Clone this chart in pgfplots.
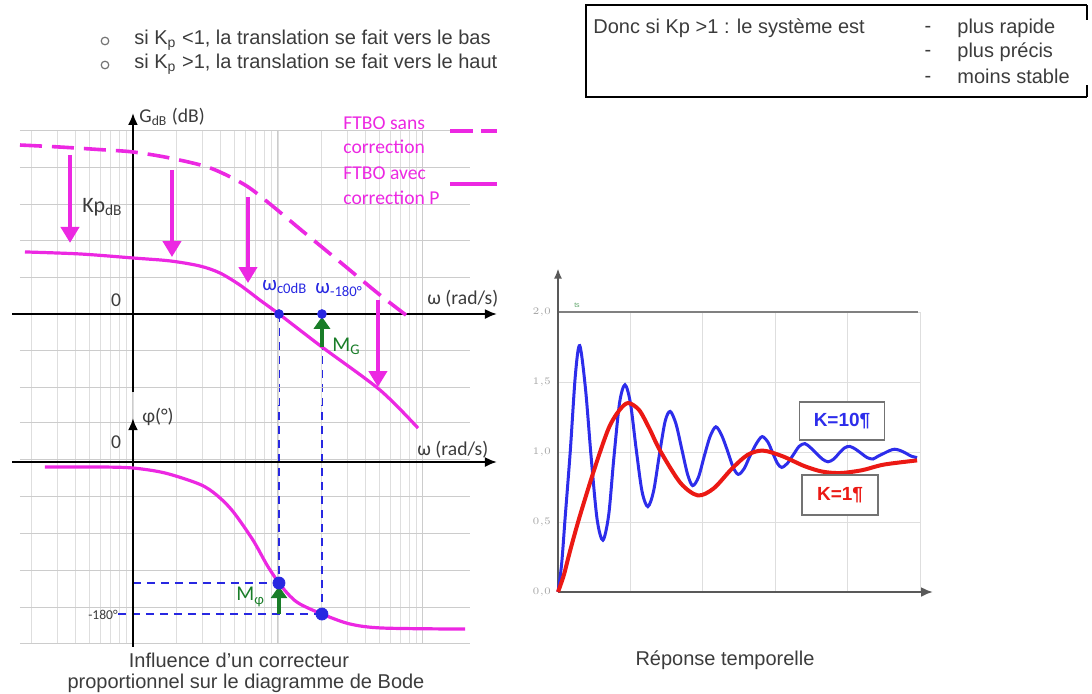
\documentclass[border=0pt]{standalone}
\usepackage{pgfplots}
\pgfplotsset{compat=1.18}
\usepackage{fontspec}
\setmainfont{Liberation Sans}
\newfontfamily\calfont{Carlito}
\usetikzlibrary{arrows.meta}
\definecolor{mag}{RGB}{236,40,226}
\definecolor{blueC}{RGB}{40,40,225}
\definecolor{greenC}{RGB}{25,125,40}
\definecolor{txt}{RGB}{60,60,60}
\definecolor{tblue}{RGB}{45,45,235}
\definecolor{tred}{RGB}{235,25,20}
\newcommand\fs[1]{\fontsize{#1}{#1}\selectfont}
\begin{document}
\begin{tikzpicture}
\path[use as bounding box] (0pt,0pt) rectangle (546pt,346.5pt);

% ---------------- phase axis ----------------
\begin{axis}[at={(10pt,25pt)}, anchor=south west, scale only axis,
 width=225pt, height=119pt,
 xmode=log, xmin=0.1663, xmax=211, ymin=-214.3, ymax=67.5,
 ytick={46.2,2.4,-41.4,-84.1,-127.9,-171.7,-214.3}, minor y tick num=0,
 grid=both, major grid style={draw=black!20, line width=0.5pt},
 minor grid style={draw=black!13, line width=0.4pt},
 axis line style={draw=none}, major tick length=0pt, minor tick length=0pt,
 xticklabels={}, yticklabels={}, clip=false]
\draw[blueC, line width=0.8pt, dash pattern=on 4pt off 3pt] (axis cs:10.16,175.3) -- (axis cs:10.16,-143.3);
\draw[blueC, line width=0.8pt, dash pattern=on 4pt off 3pt] (axis cs:20.1,175.3) -- (axis cs:20.1,-180);
\draw[blueC, line width=0.8pt, dash pattern=on 4pt off 3pt] (axis cs:1,-143.3) -- (axis cs:10.16,-143.3);
\draw[blueC, line width=0.8pt, dash pattern=on 4pt off 3pt] (axis cs:0.788,-180) -- (axis cs:20.1,-180);
\draw[black, line width=1.1pt, -{Latex[length=6pt,width=5pt]}] (axis cs:0.1465,0) -- (axis cs:323.9,0);
\draw[black, line width=1.1pt, -{Latex[length=6pt,width=5pt]}] (axis cs:1,-219) -- (axis cs:1,52);
\addplot[mag, line width=1.6pt, smooth] coordinates {
(0.247,-5.9) (0.592,-5.9) (1,-7.1) (1.663,-13.0) (2.90,-26.5) (3.80,-39.5)
(4.89,-58.5) (6.72,-92.4) (8.40,-122) (10.16,-143.3) (12.10,-158.7)
(14.2,-168.2) (20.1,-180) (31.4,-191.8) (53.0,-196.6) (195,-197.8)};
\draw[greenC, line width=2.2pt, -{Triangle[width=8pt,length=6pt]}] (axis cs:10.16,-180) -- (axis cs:10.16,-147);
\addplot[only marks, mark=*, mark size=3pt, blueC] coordinates {(10.16,-143.3) (20.1,-180)};
\end{axis}

% ---------------- gain axis ----------------
\begin{axis}[at={(10pt,144pt)}, anchor=south west, scale only axis,
 width=225pt, height=137.5pt,
 xmode=log, xmin=0.1663, xmax=211, ymin=-49.7, ymax=100.5,
 ytick={-40,-20,0,20,40,60,80,100}, minor y tick num=0,
 grid=both, major grid style={draw=black!20, line width=0.5pt},
 minor grid style={draw=black!13, line width=0.4pt},
 axis line style={draw=none}, major tick length=0pt, minor tick length=0pt,
 xticklabels={}, yticklabels={}, clip=false]
\draw[black, line width=1.1pt, -{Latex[length=6pt,width=5pt]}] (axis cs:0.1465,0) -- (axis cs:323.9,0);
\draw[black, line width=1.1pt, -{Latex[length=6pt,width=5pt]}] (axis cs:1,-42.6) -- (axis cs:1,109.8);
\addplot[mag, line width=1.8pt, dash pattern=on 11pt off 5pt, smooth] coordinates {
(0.1663,92.3) (0.314,91.2) (0.592,89.8) (1,88.5) (1.80,85.2) (3.40,79.8)
(5.92,70.5) (8.81,60.1) (14.2,46.4) (26.8,28.4) (50.5,10.4) (81.3,-2.2)};
\addplot[mag, line width=1.6pt, smooth] coordinates {
(0.180,33.9) (0.431,32.8) (1,30.6) (1.80,29.0) (2.90,26.2) (3.98,22.4)
(5.47,15.8) (7.51,7.6) (10.16,0) (20.1,-18.0) (50.5,-41.5) (92.4,-62.3)};
\draw[mag, line width=2pt, -{Triangle[width=9pt,length=8pt]}] (axis cs:0.368,86.9) -- (axis cs:0.368,38.8);
\draw[mag, line width=2pt, -{Triangle[width=9pt,length=8pt]}] (axis cs:1.858,78.7) -- (axis cs:1.858,31.1);
\draw[mag, line width=2pt, -{Triangle[width=9pt,length=8pt]}] (axis cs:6.21,63.9) -- (axis cs:6.21,16.9);
\draw[mag, line width=2pt, -{Triangle[width=9pt,length=8pt]}] (axis cs:48.9,7.7) -- (axis cs:48.9,-39.9);
\draw[greenC, line width=2.2pt, -{Triangle[width=8pt,length=6pt]}] (axis cs:20.1,-18) -- (axis cs:20.1,-1.5);
\addplot[only marks, mark=*, mark size=2.2pt, blueC] coordinates {(10.16,0) (20.1,0)};
\end{axis}

% ---------------- time response ----------------
\begin{axis}[at={(279pt,50.5pt)}, anchor=south west, scale only axis,
 width=181pt, height=140pt,
 xmin=0, xmax=5, ymin=0, ymax=2,
 xtick={1,2,3,4,5}, ytick={0,0.5,1,1.5,2},
 grid=major, major grid style={draw=black!13, line width=0.5pt},
 axis line style={draw=none}, major tick length=0pt,
 xticklabels={},
 yticklabel style={font=\fs{3}, text=black!35},
 yticklabel={\pgfmathprintnumber[fixed,fixed zerofill,precision=1,use comma]{\tick}},
 clip=false]
\draw[black!50, line width=0.8pt] (axis cs:0,2) -- (axis cs:4.97,2);
\draw[black!65, line width=0.8pt, -{Latex[length=5pt,width=4pt]}] (axis cs:0,0) -- (axis cs:0,2.31);
\draw[black!65, line width=1.2pt, -{Latex[length=6pt,width=5pt]}] (axis cs:0,0) -- (axis cs:5.18,0);
\addplot[tblue, line width=1.5pt, smooth] coordinates {
(0,0) (0.05,0.2) (0.10,0.54) (0.17,1.01) (0.24,1.55) (0.30,1.76) (0.38,1.45)
(0.46,0.95) (0.54,0.52) (0.62,0.37) (0.70,0.55) (0.77,0.95) (0.85,1.35)
(0.925,1.48) (1.00,1.35) (1.08,1.02) (1.16,0.72) (1.24,0.61) (1.32,0.72)
(1.40,0.98) (1.48,1.22) (1.55,1.29) (1.63,1.20) (1.71,1.02) (1.79,0.84)
(1.86,0.76) (1.94,0.82) (2.02,0.97) (2.10,1.11) (2.18,1.18) (2.26,1.12)
(2.34,1.01) (2.42,0.89) (2.49,0.84) (2.57,0.88) (2.65,0.97) (2.74,1.06)
(2.82,1.11) (2.90,1.07) (2.96,1.00) (3.03,0.92) (3.09,0.89) (3.17,0.92)
(3.25,0.98) (3.33,1.04) (3.41,1.06) (3.49,1.03) (3.57,0.99) (3.65,0.95)
(3.73,0.93) (3.81,0.95) (3.88,0.99) (3.96,1.03) (4.03,1.04) (4.11,1.02)
(4.19,0.99) (4.27,0.96) (4.35,0.95) (4.42,0.97) (4.50,0.99) (4.58,1.01)
(4.65,1.02) (4.73,1.01) (4.81,0.99) (4.88,0.97) (4.96,0.96)};
\addplot[tred, line width=2pt, smooth] coordinates {
(0,0) (0.08,0.12) (0.17,0.30) (0.30,0.54) (0.51,0.89) (0.70,1.17) (0.85,1.30)
(0.97,1.35) (1.12,1.30) (1.26,1.17) (1.41,1.01) (1.69,0.78) (1.93,0.69)
(2.15,0.74) (2.40,0.88) (2.62,0.98) (2.83,1.01) (3.10,0.97) (3.40,0.90)
(3.65,0.86) (3.90,0.85) (4.20,0.87) (4.50,0.91) (4.96,0.94)};
\end{axis}

% ---------------- texts and decorations (pixel coordinates, origin top-left) ----------------
\begin{scope}[shift={(0pt,346.5pt)}, x=0.5pt, y=-0.5pt]
\begin{scope}[font=\fs{10}, text=txt]
\draw[black!55, line width=0.6pt] (105,41) circle (1.9pt);
\draw[black!55, line width=0.6pt] (105,65) circle (1.9pt);
\node[anchor=west, inner sep=0pt] at (134,40) {si K\textsubscript{p} <1, la translation se fait vers le bas};
\node[anchor=west, inner sep=0pt] at (134,64) {si K\textsubscript{p} >1, la translation se fait vers le haut};
\draw[black, line width=1pt] (1087,5) -- (586,5) -- (586,97) -- (1087,97);
\draw[black, line width=1pt] (1087,5) -- (1087,20);
\draw[black, line width=1pt] (1087,85) -- (1087,97);
\node[anchor=west, inner sep=0pt] at (593,28) {Donc si Kp >1 : le système est};
\node[inner sep=0pt] at (928,29) {-};
\node[inner sep=0pt] at (928,53) {-};
\node[inner sep=0pt] at (928,79) {-};
\node[anchor=west, inner sep=0pt] at (957,28) {plus rapide};
\node[anchor=west, inner sep=0pt] at (957,52) {plus précis};
\node[anchor=west, inner sep=0pt] at (957,76) {moins stable};
\node[inner sep=0pt] at (239,660) {Influence d'un correcteur};
\node[inner sep=0pt] at (246,683) {proportionnel sur le diagramme de Bode};
\node[inner sep=0pt] at (725,660) {Réponse temporelle};
\end{scope}

\begin{scope}[font=\calfont\fs{9.8}]
\node[anchor=west, inner sep=0pt, text=mag] at (343,123) {FTBO sans};
\node[anchor=west, inner sep=0pt, text=mag] at (343,147) {correction};
\node[anchor=west, inner sep=0pt, text=mag] at (343,173) {FTBO avec};
\node[anchor=west, inner sep=0pt, text=mag] at (343,198) {correction P};
\draw[mag, line width=1.8pt] (450,131) -- (473,131);
\draw[mag, line width=1.8pt] (481,131) -- (497,131);
\draw[mag, line width=1.8pt] (450,184) -- (497,184);
\node[anchor=west, inner sep=0pt, text=txt] at (139,117) {G\textsubscript{dB} (dB)};
\node[inner sep=0pt, text=txt] at (116,300) {0};
\node[anchor=west, inner sep=0pt, text=txt] at (427,299) {ω (rad/s)};
\node[anchor=west, inner sep=0pt, text=txt, font=\calfont\fs{11}] at (82,207) {Kp\textsubscript{dB}};
\node[anchor=west, inner sep=0pt, text=blueC, font=\calfont\fs{10.5}] at (262,287) {ω\textsubscript{c0dB}};
\node[anchor=west, inner sep=0pt, text=blueC, font=\calfont\fs{10.5}] at (315,290) {ω\textsubscript{-180°}};
\node[anchor=west, inner sep=0pt, text=greenC, font=\calfont\fs{10.5}] at (332,346) {M\textsubscript{G}};
\node[anchor=west, inner sep=0pt, text=txt] at (142,417) {φ(°)};
\node[inner sep=0pt, text=txt] at (116,442) {0};
\node[anchor=west, inner sep=0pt, text=txt] at (417,450) {ω (rad/s)};
\node[inner sep=0pt, text=txt, font=\calfont\fs{6.8}] at (103,615) {-180°};
\node[anchor=west, inner sep=0pt, text=greenC, font=\calfont\fs{10.5}] at (236,597) {M\textsubscript{φ}};
\end{scope}

\node[inner sep=0pt, text=greenC!70, font=\fs{3.5}] at (577,305) {ts};
\node[draw=black!55, line width=0.6pt, fill=white, minimum width=42.5pt, minimum height=19pt, text=tblue, font=\bfseries\fs{9.5}] at (842,421) {K=10¶};
\node[draw=black!55, line width=0.6pt, fill=white, minimum width=38pt, minimum height=20pt, text=tred, font=\bfseries\fs{9.5}] at (840,495) {K=1¶};
\end{scope}
\end{tikzpicture}
\end{document}
